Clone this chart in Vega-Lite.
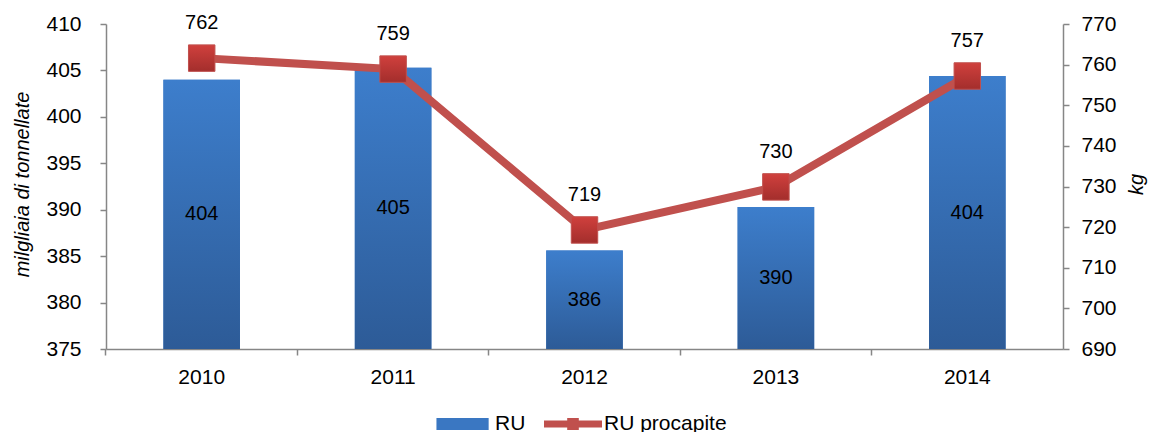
{
  "$schema": "https://vega.github.io/schema/vega-lite/v6.json",
  "width": 957,
  "height": 325,
  "autosize": {"type": "none"},
  "padding": {"left": 106, "top": 24, "right": 88, "bottom": 83},
  "background": "white",
  "config": {
    "view": {"stroke": null},
    "font": "Liberation Sans",
    "axis": {
      "domainColor": "#868686",
      "tickColor": "#868686",
      "domainWidth": 1.5,
      "tickWidth": 1.5,
      "tickSize": 6,
      "grid": false,
      "labelColor": "#000000",
      "labelFont": "Liberation Sans",
      "labelFontSize": 21,
      "titleFont": "Liberation Sans",
      "titleFontSize": 20,
      "titleFontStyle": "italic",
      "titleFontWeight": "normal",
      "titleColor": "#000000"
    }
  },
  "data": {
    "values": [
      {"anno": "2010", "RU": 404.0, "procapite": 761.6},
      {"anno": "2011", "RU": 405.3, "procapite": 758.9},
      {"anno": "2012", "RU": 385.6, "procapite": 719.3},
      {"anno": "2013", "RU": 390.3, "procapite": 729.9},
      {"anno": "2014", "RU": 404.4, "procapite": 757.2}
    ]
  },
  "encoding": {
    "x": {
      "field": "anno",
      "type": "ordinal",
      "scale": {"paddingInner": 0.6, "paddingOuter": 0.3},
      "axis": {"title": null, "labelAngle": 0, "bandPosition": -0.75, "labelPadding": 11}
    }
  },
  "layer": [
    {
      "encoding": {
        "y": {
          "field": "RU",
          "type": "quantitative",
          "scale": {"domain": [375, 410], "zero": false, "nice": false},
          "axis": {
            "orient": "left",
            "values": [375, 380, 385, 390, 395, 400, 405, 410],
            "labelPadding": 19,
            "title": "milgliaia di tonnellate",
            "titleAngle": 270,
            "titleX": -84,
            "titleY": 160,
            "titleBaseline": "middle",
            "titleAlign": "center"
          }
        }
      },
      "layer": [
        {
          "mark": {"type": "bar"},
          "encoding": {
            "y2": {"datum": 375},
            "color": {
              "datum": "RU",
              "type": "nominal",
              "scale": {"domain": ["RU", "RU procapite"], "range": ["#3a77c2", "#c0504d"]},
              "legend": {
                "orient": "none",
                "legendX": 329,
                "legendY": 371,
                "direction": "horizontal",
                "title": null,
                "labelFont": "Liberation Sans",
                "labelFontSize": 21,
                "labelColor": "#000000",
                "symbolSize": 3364,
                "labelOffset": 2,
                "columnPadding": 18,
                "padding": 0,
                "encode": {
                  "symbols": {
                    "update": {
                      "shape": {"signal": "datum.value === 'RU' ? 'M-0.95,-0.21H0.85V0.21H-0.95Z' : 'M-1,-0.12H-0.2V-0.21H0.2V-0.12H1V0.12H0.2V0.21H-0.2V0.12H-1Z'"},
                      "fill": {"signal": "datum.value === 'RU' ? '#3872bb' : '#c0504d'"},
                      "stroke": {"value": "transparent"},
                      "strokeWidth": {"value": 0},
                      "opacity": {"value": 1},
                      "fillOpacity": {"value": 1}
                    }
                  }
                }
              }
            }
          }
        },
        {
          "mark": {
            "type": "bar",
            "fill": {
              "gradient": "linear",
              "x1": 0, "y1": 0, "x2": 0, "y2": 1,
              "stops": [
                {"offset": 0, "color": "#3d7ecc"},
                {"offset": 1, "color": "#2d5b97"}
              ]
            }
          },
          "encoding": {"y2": {"datum": 375}}
        },
        {
          "transform": [{"calculate": "(datum.RU + 375) / 2", "as": "mid"}],
          "mark": {"type": "text", "fontSize": 20, "color": "#000000", "baseline": "middle"},
          "encoding": {
            "y": {"field": "mid", "type": "quantitative"},
            "text": {"field": "RU", "type": "quantitative", "format": ".0f"}
          }
        }
      ]
    },
    {
      "encoding": {
        "y": {
          "field": "procapite",
          "type": "quantitative",
          "scale": {"domain": [690, 770], "zero": false, "nice": false},
          "axis": {
            "orient": "right",
            "values": [690, 700, 710, 720, 730, 740, 750, 760, 770],
            "labelPadding": 12,
            "title": "kg",
            "titleAngle": 270,
            "titleX": 73,
            "titleY": 160,
            "titleBaseline": "middle",
            "titleAlign": "center"
          }
        }
      },
      "layer": [
        {
          "mark": {"type": "line", "strokeWidth": 8},
          "encoding": {
            "color": {
              "datum": "RU procapite",
              "type": "nominal",
              "scale": {"domain": ["RU", "RU procapite"], "range": ["#3a77c2", "#c0504d"]}
            }
          }
        },
        {
          "mark": {
            "type": "point",
            "shape": "square",
            "size": 700,
            "filled": true,
            "opacity": 1,
            "fill": {
              "gradient": "linear",
              "x1": 0, "y1": 0, "x2": 0, "y2": 1,
              "stops": [
                {"offset": 0, "color": "#d0403d"},
                {"offset": 1, "color": "#a32e2c"}
              ]
            },
            "stroke": "#c0504d",
            "strokeWidth": 1
          }
        },
        {
          "mark": {"type": "text", "fontSize": 20, "color": "#000000", "baseline": "middle", "dy": -35},
          "encoding": {
            "text": {"field": "procapite", "type": "quantitative", "format": ".0f"}
          }
        }
      ]
    }
  ],
  "resolve": {"scale": {"y": "independent"}}
}
